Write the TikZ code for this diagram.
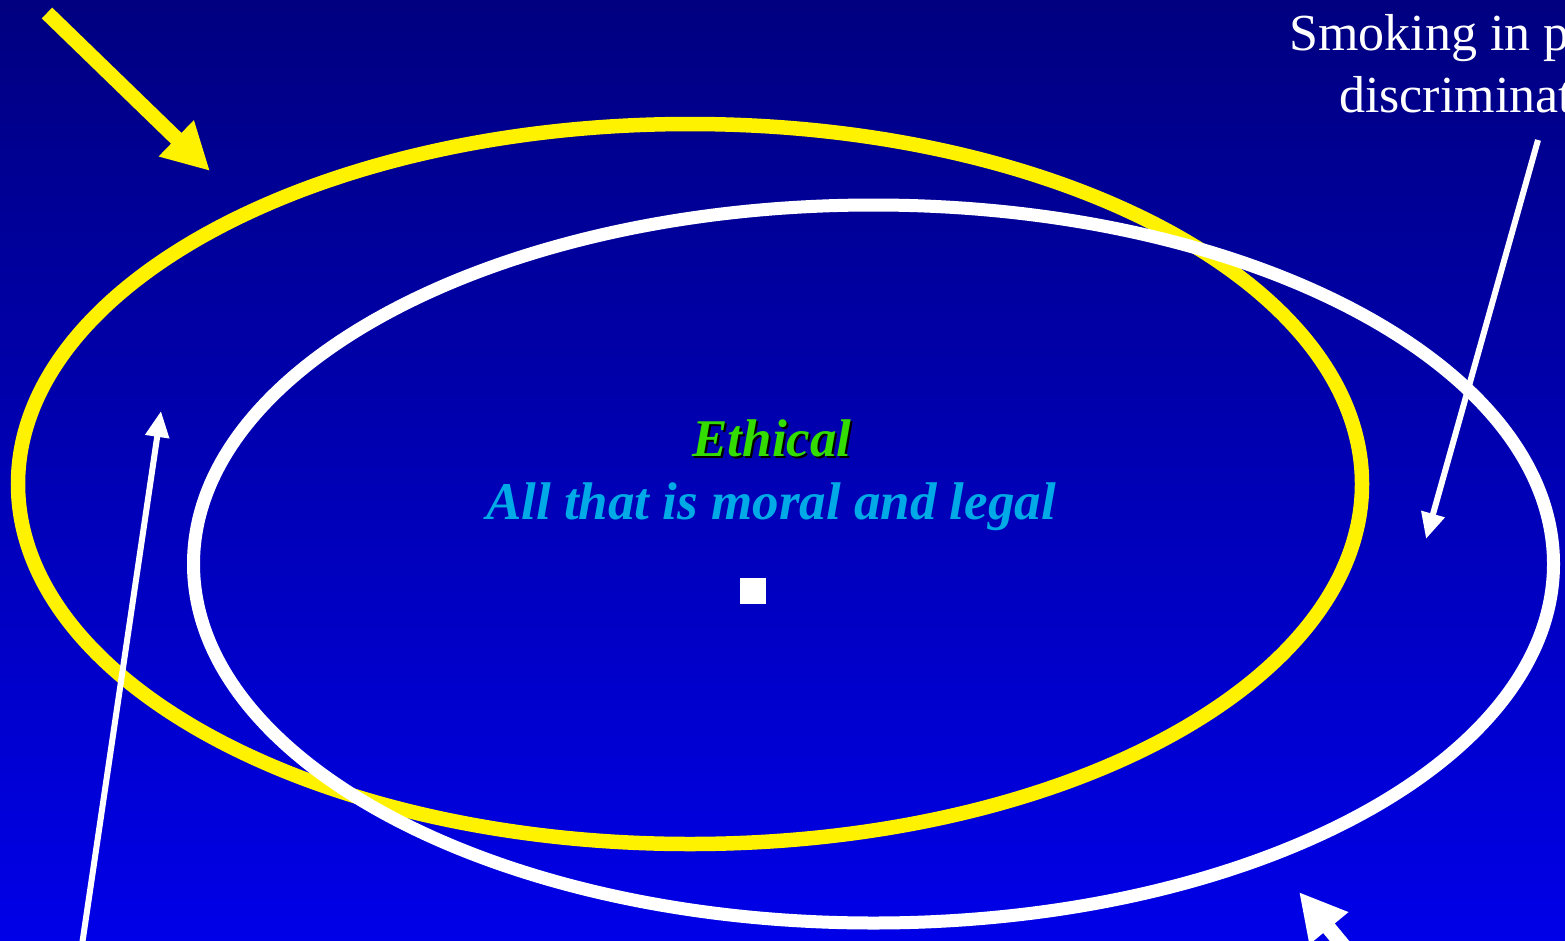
\documentclass[tikz,border=0pt]{standalone}
\usepackage{fontspec}
\setmainfont{Liberation Serif}
\usetikzlibrary{arrows.meta}
\definecolor{bgtop}{RGB}{0,0,128}
\definecolor{bgbot}{RGB}{0,0,232}
\definecolor{ylw}{RGB}{255,242,0}
\definecolor{ethgreen}{RGB}{51,221,0}
\definecolor{lblue}{RGB}{0,170,230}
\tikzset{
  ring/.style={draw=#1, line width=13bp},
  thinarrow/.style={draw=white, fill=white, line width=6bp, -{Triangle[length=26bp,width=23bp]}},
  fatarrow/.style={draw=#1, fill=#1, line width=15bp, -{Triangle[length=47bp,width=47bp]}},
  label/.style={inner sep=0pt, anchor=base},
}
\begin{document}
\begin{tikzpicture}[x=1bp,y=-1bp]
\useasboundingbox (0,0) rectangle (1565,940);
\clip (0,0) rectangle (1565,940);
\shade[top color=bgtop, bottom color=bgbot] (0,0) rectangle (1565,940);
% ellipses
\draw[ring=ylw, line width=14.5bp] (690,484) ellipse [x radius=672, y radius=360];
\draw[ring=white] (873.5,564) ellipse [x radius=680, y radius=359];
% center texts
\node[label, text=black] at (774,458) {\fontsize{53bp}{60bp}\selectfont\bfseries\itshape Ethical};
\node[label, text=ethgreen] (eth) at (772,456) {\fontsize{53bp}{60bp}\selectfont\bfseries\itshape Ethical};
\node[label, text=lblue] (all) at (771,519) {\fontsize{53bp}{60bp}\selectfont\bfseries\itshape All that is moral and legal};
\node[fill=white, minimum size=26bp, inner sep=0pt] (sq) at (753,591) {};
% top-right text
\node[label, anchor=base west, text=white] (smk1) at (1289,50) {\fontsize{52bp}{60bp}\selectfont Smoking in p};
\node[label, anchor=base west, text=white] (smk2) at (1339,112) {\fontsize{52bp}{60bp}\selectfont discriminat};
% arrows
\coordinate (ya) at (47,13);
\coordinate (yb) at (210,171);
\draw[fatarrow=ylw] (ya) -- (yb);
\coordinate (ra) at (1538,140);
\coordinate (rb) at (1426,539);
\draw[thinarrow] (ra) -- (rb);
\coordinate (la) at (82,945);
\coordinate (lb) at (161,411);
\draw[thinarrow] (la) -- (lb);
\coordinate (ba) at (1380,990);
\coordinate (bb) at (1299,892);
\draw[fatarrow=white] (ba) -- (bb);
\end{tikzpicture}
\end{document}
